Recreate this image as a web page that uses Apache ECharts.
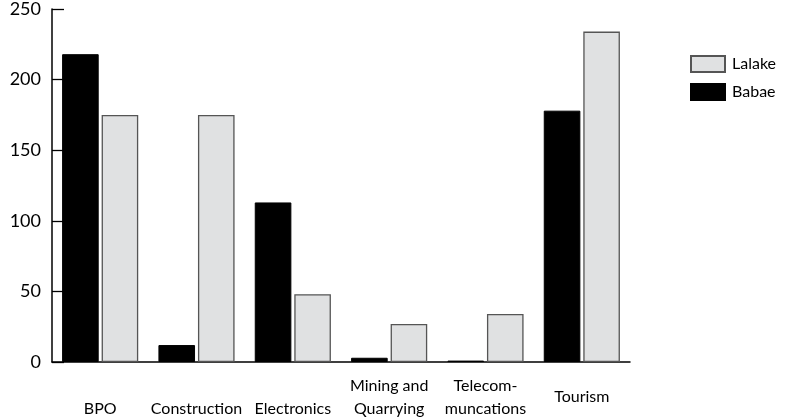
<!DOCTYPE html>
<html>
<head>
<meta charset="utf-8">
<script src="https://cdn.jsdelivr.net/npm/echarts@6/dist/echarts.min.js"></script>
<style>
html,body{margin:0;padding:0;background:#fff;}
#chart{width:789px;height:420px;}
</style>
</head>
<body>
<div id="chart"></div>
<script>
const categories = ['BPO', 'Construction', 'Electronics', 'Mining and\nQuarrying', 'Telecom-\nmuncations', 'Tourism'];
const babae = [218, 12, 113, 3, 1, 178];
const lalake = [175, 175, 48, 27, 34, 234];
const yTicks = { min: 0, max: 250, interval: 50 };

const chart = echarts.init(document.getElementById('chart'), null, { renderer: 'canvas' });
const font = 'Lato, "DejaVu Sans", sans-serif';
chart.setOption({
  animation: false,
  backgroundColor: '#fff',
  grid: { left: 52, right: 159, top: 9, bottom: 55, containLabel: false },
  legend: {
    orient: 'vertical',
    left: 685,
    top: 50,
    itemWidth: 34,
    itemHeight: 16,
    itemGap: 10,
    icon: 'rect',
    data: ['Lalake', 'Babae'],
    textStyle: { fontFamily: font, fontSize: 16, color: '#000', padding: [0, 0, 0, 2] }
  },
  xAxis: {
    type: 'category',
    data: categories,
    axisLine: { lineStyle: { color: '#000', width: 1.5 } },
    axisTick: { inside: true, length: 7, alignWithLabel: false, lineStyle: { color: '#000', width: 1.3 } },
    axisLabel: {
      interval: 0,
      margin: 12,
      color: '#000',
      fontFamily: font,
      fontSize: 16,
      lineHeight: 23,
      formatter: function (v) {
        if (v.indexOf('\n') >= 0) return v;
        if (v === 'Tourism') return '{t|' + v + '}';
        return '\n' + v;
      },
      rich: { t: { fontFamily: font, fontSize: 16, color: '#000', lineHeight: 46 } }
    }
  },
  yAxis: {
    type: 'value',
    min: yTicks.min,
    max: yTicks.max,
    interval: yTicks.interval,
    splitLine: { show: false },
    axisLine: { show: true, lineStyle: { color: '#000', width: 1.5 } },
    axisTick: { show: true, inside: true, length: 12, lineStyle: { color: '#000', width: 1.3 } },
    axisLabel: { color: '#000', fontFamily: font, fontSize: 18, margin: 11 }
  },
  series: [
    {
      name: 'Babae',
      type: 'bar',
      data: babae,
      barWidth: '38%',
      barGap: '8%',
      itemStyle: { color: '#000', borderColor: '#000', borderWidth: 1 }
    },
    {
      name: 'Lalake',
      type: 'bar',
      data: lalake,
      barWidth: '38%',
      itemStyle: { color: '#e0e1e2', borderColor: '#555', borderWidth: 1.3 }
    }
  ]
});
</script>
</body>
</html>
